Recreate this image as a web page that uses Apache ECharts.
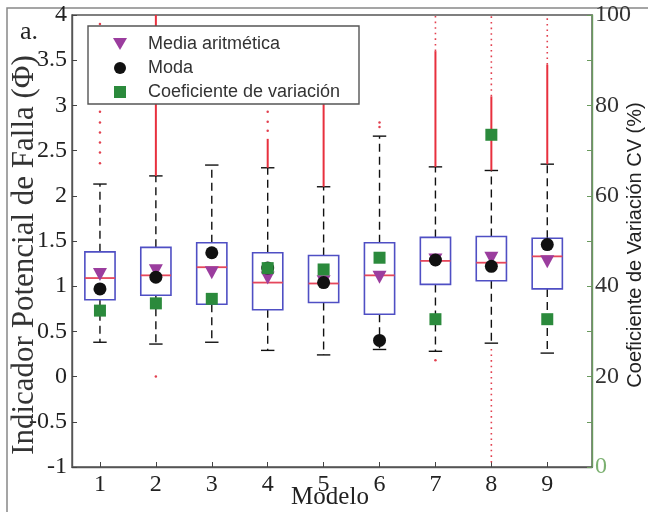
<!DOCTYPE html>
<html>
<head>
<meta charset="utf-8">
<script src="https://cdn.jsdelivr.net/npm/echarts@6/dist/echarts.min.js"></script>
<style>html,body{margin:0;padding:0;background:#fff}#c{width:648px;height:512px}</style>
</head>
<body>
<div id="c"></div>
<script>
// ---- data ----
const models      = [1, 2, 3, 4, 5, 6, 7, 8, 9];
const whiskerLow  = [0.38, 0.36, 0.38, 0.29, 0.24, 0.30, 0.28, 0.37, 0.26];
const q1          = [0.85, 0.90, 0.80, 0.74, 0.82, 0.69, 1.02, 1.06, 0.97];
const median      = [1.09, 1.12, 1.21, 1.04, 1.03, 1.12, 1.28, 1.26, 1.33];
const q3          = [1.38, 1.43, 1.48, 1.37, 1.34, 1.48, 1.54, 1.55, 1.53];
const whiskerHigh = [2.13, 2.22, 2.34, 2.31, 2.10, 2.66, 2.32, 2.28, 2.35];
const meanVals    = [1.13, 1.17, 1.15, 1.09, 1.05, 1.10, 1.29, 1.31, 1.27];
const modaVals    = [0.97, 1.10, 1.37, 1.20, 1.04, 0.40, 1.29, 1.22, 1.46];
const cvVals      = [34.6, 36.2, 37.2, 44.0, 43.7, 46.3, 32.7, 73.5, 32.7];
// dense outlier runs [model, from, to]
const denseRuns   = [[2, 2.22, 4.0], [4, 2.31, 2.63], [5, 2.10, 3.15], [7, 2.32, 3.6], [8, 2.28, 3.1], [9, 2.35, 3.45]];
// sparse (dotted) outlier runs [model, from, to]
const dottedRuns  = [[7, 3.6, 4.0], [8, 3.1, 4.0], [9, 3.45, 4.0], [8, -0.95, 0.33]];
// isolated outliers [model, value]
const outliers    = [[1, 3.9], [1, 2.93], [1, 2.81], [1, 2.70], [1, 2.59], [1, 2.48], [1, 2.36],
                     [2, 0.0], [4, 2.72], [4, 2.82], [4, 2.93], [6, 2.76], [6, 2.81], [7, 0.18]];
const leftTicks   = [-1, -0.5, 0, 0.5, 1, 1.5, 2, 2.5, 3, 3.5, 4];
const rightLabels = [0, 20, 40, 60, 80, 100];
const legendNames = ['Media aritmética', 'Moda', 'Coeficiente de variación'];

const SERIF = 'Liberation Serif';
const SANS = 'Liberation Sans';

const boxData = models.map((m, i) => [m, whiskerLow[i], q1[i], median[i], q3[i], whiskerHigh[i]]);
const runData = denseRuns.map(r => [r[0], r[1], r[2], 0]).concat(dottedRuns.map(r => [r[0], r[1], r[2], 1]));

function renderBox(params, api) {
  const x = api.value(0);
  const lo = api.coord([x, api.value(1)]);
  const b1 = api.coord([x, api.value(2)]);
  const md = api.coord([x, api.value(3)]);
  const b3 = api.coord([x, api.value(4)]);
  const hi = api.coord([x, api.value(5)]);
  const w = api.size([0.54, 0])[0];
  const cw = api.size([0.24, 0])[0];
  const cx = lo[0];
  const dash = {stroke: '#111', lineWidth: 1.4, lineDash: [8, 5]};
  const solid = {stroke: '#111', lineWidth: 1.4};
  return {type: 'group', children: [
    {type: 'line', shape: {x1: cx, y1: b3[1], x2: cx, y2: hi[1]}, style: dash},
    {type: 'line', shape: {x1: cx, y1: b1[1], x2: cx, y2: lo[1]}, style: dash},
    {type: 'line', shape: {x1: cx - cw / 2, y1: hi[1], x2: cx + cw / 2, y2: hi[1]}, style: solid},
    {type: 'line', shape: {x1: cx - cw / 2, y1: lo[1], x2: cx + cw / 2, y2: lo[1]}, style: solid},
    {type: 'rect', shape: {x: cx - w / 2, y: b3[1], width: w, height: b1[1] - b3[1]},
      style: {stroke: '#4f4fc4', lineWidth: 1.6, fill: 'none'}},
    {type: 'line', shape: {x1: cx - w / 2, y1: md[1], x2: cx + w / 2, y2: md[1]},
      style: {stroke: '#e5475c', lineWidth: 1.8}}
  ]};
}

function renderRun(params, api) {
  const x = api.value(0);
  const a = api.coord([x, api.value(1)]);
  const b = api.coord([x, api.value(2)]);
  const dotted = api.value(3) === 1;
  return {type: 'line', shape: {x1: a[0], y1: a[1], x2: b[0], y2: b[1]},
    style: dotted ? {stroke: '#e2404f', lineWidth: 1.6, lineDash: [1.6, 4]}
                  : {stroke: '#e8303e', lineWidth: 2}};
}

const chart = echarts.init(document.getElementById('c'), null, {renderer: 'canvas'});
const option = {
  animation: false,
  backgroundColor: '#fff',
  grid: {left: 72, right: 56, top: 15, bottom: 45, show: true, borderColor: '#555', borderWidth: 1.4, backgroundColor: 'transparent'},
  xAxis: {
    type: 'value', min: 0.5, max: 9.8,
    axisLine: {onZero: false, lineStyle: {color: '#555', width: 1.4}},
    axisTick: {inside: true, length: 5, customValues: models, lineStyle: {color: '#444'}},
    axisLabel: {customValues: models, fontFamily: SERIF, fontSize: 24, color: '#222', margin: 6},
    splitLine: {show: false}
  },
  yAxis: [{
    type: 'value', min: -1, max: 4, interval: 0.5, position: 'left',
    axisLine: {show: true, lineStyle: {color: '#555', width: 1.4}},
    axisTick: {show: true, inside: true, length: 5, lineStyle: {color: '#444'}},
    axisLabel: {fontFamily: SERIF, fontSize: 24, color: '#222', margin: 5,
      customValues: leftTicks, formatter: v => String(v)},
    splitLine: {show: false}
  }, {
    type: 'value', min: 0, max: 100, interval: 10, position: 'right',
    axisLine: {show: true, lineStyle: {color: '#6a9a5e', width: 1.4}},
    axisTick: {show: true, inside: true, length: 5, lineStyle: {color: '#6a9a5e'}},
    axisLabel: {fontFamily: SERIF, fontSize: 24, color: '#333', margin: 3,
      customValues: rightLabels,
      formatter: v => v === 0 ? '{g|0}' : String(v),
      rich: {g: {color: '#7bb070', fontFamily: SERIF, fontSize: 24}}},
    splitLine: {show: false}
  }],
  series: [
    {type: 'custom', name: 'box', renderItem: renderBox, data: boxData, encode: {x: 0, y: [1, 2, 3, 4, 5]}, z: 2},
    {type: 'custom', name: 'runs', renderItem: renderRun, data: runData, encode: {x: 0, y: [1, 2]}, z: 3},
    {type: 'scatter', name: 'outliers', data: outliers, symbol: 'circle', symbolSize: 2.5,
      itemStyle: {color: '#e2404f', opacity: 1}, z: 3},
    {type: 'scatter', name: legendNames[0], data: models.map((m, i) => [m, meanVals[i]]),
      symbol: 'triangle', symbolRotate: 180, symbolSize: [14, 13], itemStyle: {color: '#9b3d9e', opacity: 1}, z: 4},
    {type: 'scatter', name: legendNames[1], data: models.map((m, i) => [m, modaVals[i]]),
      symbol: 'circle', symbolSize: 13, itemStyle: {color: '#111', opacity: 1}, z: 5},
    {type: 'scatter', name: legendNames[2], yAxisIndex: 1, data: models.map((m, i) => [m, cvVals[i]]),
      symbol: 'rect', symbolSize: 12, itemStyle: {color: '#2b8a3c', opacity: 1}, z: 6}
  ],
  graphic: [
    {type: 'rect', z: 0, silent: true, shape: {x: 7, y: 8, width: 660, height: 520},
      style: {fill: 'none', stroke: '#888', lineWidth: 1.5}},
    {type: 'rect', z: 100, shape: {x: 88, y: 26, width: 271, height: 78},
      style: {fill: '#fff', stroke: '#555', lineWidth: 1.4}},
    {type: 'polygon', z: 101, shape: {points: [[113, 38], [127, 38], [120, 50]]}, style: {fill: '#9b3d9e'}},
    {type: 'circle', z: 101, shape: {cx: 120, cy: 68, r: 6}, style: {fill: '#111'}},
    {type: 'rect', z: 101, shape: {x: 114, y: 86, width: 12, height: 12}, style: {fill: '#2b8a3c'}},
    {type: 'text', z: 101, x: 148, y: 44, style: {text: legendNames[0], font: '18px ' + SANS, fill: '#333', textVerticalAlign: 'middle'}},
    {type: 'text', z: 101, x: 148, y: 68, style: {text: legendNames[1], font: '18px ' + SANS, fill: '#333', textVerticalAlign: 'middle'}},
    {type: 'text', z: 101, x: 148, y: 92, style: {text: legendNames[2], font: '18px ' + SANS, fill: '#333', textVerticalAlign: 'middle'}},
    {type: 'text', z: 101, x: 20, y: 32, style: {text: 'a.', font: '26px ' + SERIF, fill: '#222', textVerticalAlign: 'middle'}},
    {type: 'text', z: 101, x: 25, y: 255, rotation: Math.PI / 2,
      style: {text: 'Indicador Potencial de Falla (Φ)', font: '31px ' + SERIF, fill: '#333', textAlign: 'center', textVerticalAlign: 'middle'}},
    {type: 'text', z: 101, x: 330, y: 497,
      style: {text: 'Modelo', font: '25px ' + SERIF, fill: '#222', textAlign: 'center', textVerticalAlign: 'middle'}},
    {type: 'text', z: 101, x: 635, y: 245, rotation: Math.PI / 2,
      style: {text: 'Coeficiente de Variación CV (%)', font: '20px ' + SANS, fill: '#222', textAlign: 'center', textVerticalAlign: 'middle'}}
  ]
};
chart.setOption(option);
</script>
</body>
</html>
